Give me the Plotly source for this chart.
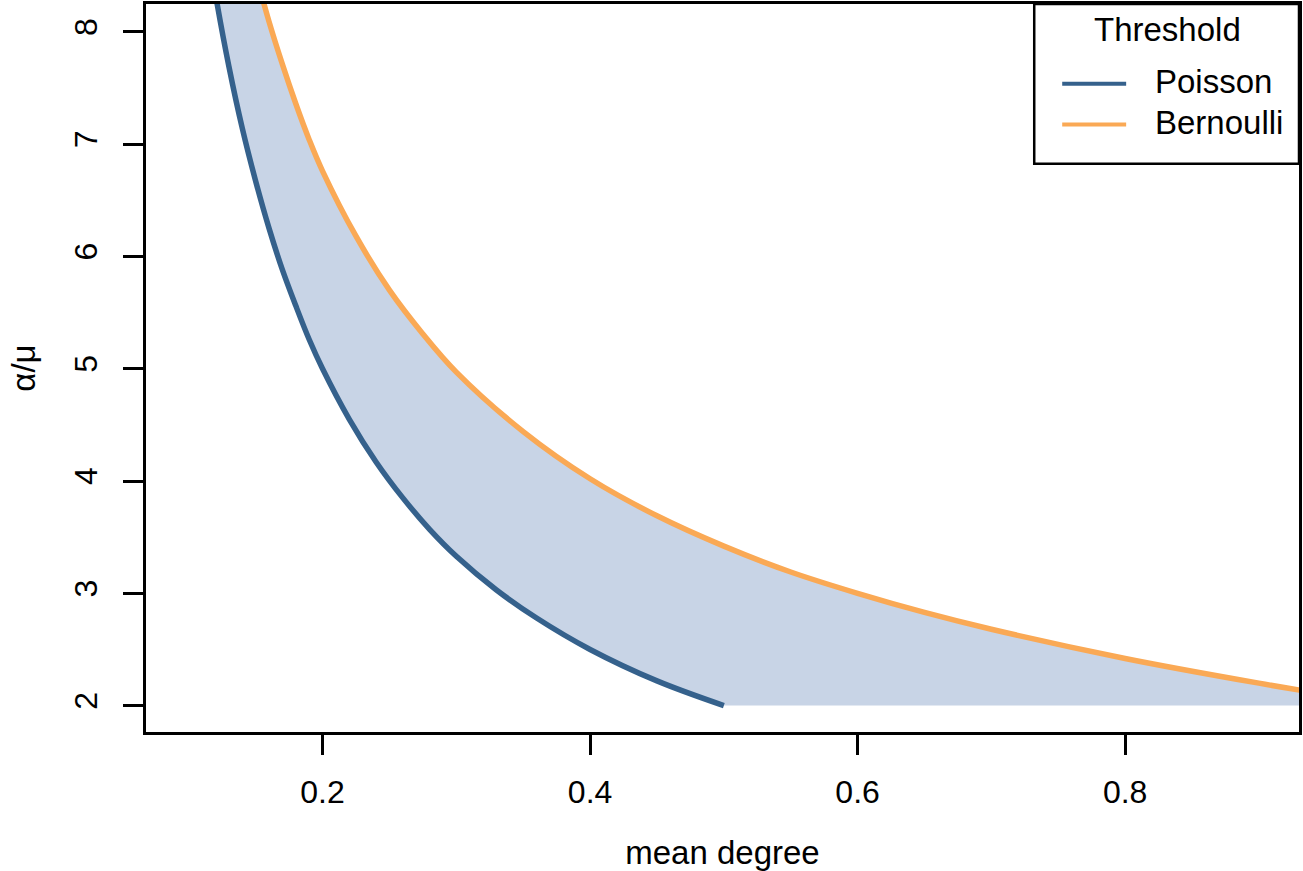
import plotly.graph_objects as go

# ---- data ----
poisson_x = [0.115, 0.12, 0.13, 0.14, 0.15, 0.16, 0.17, 0.18, 0.19, 0.20, 0.22, 0.24,
             0.26, 0.28, 0.30, 0.33, 0.36, 0.40, 0.45, 0.50]
poisson_y = [8.70, 8.33, 7.69, 7.14, 6.67, 6.25, 5.88, 5.56, 5.26, 5.00, 4.55, 4.17,
             3.85, 3.57, 3.33, 3.03, 2.78, 2.50, 2.22, 2.00]

bern_x = [0.150, 0.160, 0.170, 0.180, 0.190, 0.200, 0.225, 0.250, 0.275, 0.300,
          0.350, 0.400, 0.450, 0.500, 0.550, 0.600, 0.650, 0.700, 0.800, 0.900, 0.950]
bern_y = [8.52, 8.09, 7.71, 7.36, 7.04, 6.76, 6.18, 5.70, 5.31, 4.97,
          4.44, 4.02, 3.69, 3.42, 3.19, 3.00, 2.83, 2.68, 2.42, 2.20, 2.10]

floor_y = 2.0
x_ticks = [0.2, 0.4, 0.6, 0.8]
x_ticklabels = ["0.2", "0.4", "0.6", "0.8"]
y_ticks = [2, 3, 4, 5, 6, 7, 8]
y_ticklabels = ["2", "3", "4", "5", "6", "7", "8"]
series_names = ["Poisson", "Bernoulli"]
legend_title = "Threshold"

# ---- styles ----
BLUE = "#35618c"
ORANGE = "#faa955"
FILL = "#c8d4e6"
FONT = "Liberation Sans, Arial, Helvetica, sans-serif"
FS = 32
FS_TITLE = 33
FS_LEG = 33
W, H = 1303, 871
ML, MR, MT, MB = 146, 3, 1, 139

fig = go.Figure()

# lower boundary of the shaded band (Poisson, then the floor at 2)
fig.add_trace(go.Scatter(x=poisson_x + [bern_x[-1]], y=poisson_y + [floor_y],
                         mode="lines", line=dict(width=0, color=FILL, shape="linear"),
                         showlegend=False, hoverinfo="skip"))
# upper boundary (Bernoulli) filled down to the lower boundary
fig.add_trace(go.Scatter(x=bern_x, y=bern_y, mode="lines",
                         line=dict(width=0, color=FILL, shape="spline"),
                         fill="tonexty", fillcolor=FILL,
                         showlegend=False, hoverinfo="skip"))
# visible curves
fig.add_trace(go.Scatter(x=poisson_x, y=poisson_y, mode="lines", name=series_names[0],
                         line=dict(width=5.5, color=BLUE, shape="spline"), showlegend=False))
fig.add_trace(go.Scatter(x=bern_x, y=bern_y, mode="lines", name=series_names[1],
                         line=dict(width=5.5, color=ORANGE, shape="spline"), showlegend=False))

axis_common = dict(showgrid=False, zeroline=False, showline=True, linecolor="black",
                   linewidth=2.5, mirror=True, ticks="outside", ticklen=20,
                   tickwidth=2.5, tickcolor="black",
                   tickfont=dict(family=FONT, size=FS, color="black"))

fig.update_xaxes(range=[0.068, 0.93], tickvals=x_ticks, ticktext=x_ticklabels,
                 title=dict(text="mean degree", font=dict(family=FONT, size=FS_TITLE, color="black"),
                            standoff=32),
                 ticklabelstandoff=10, **axis_common)
fig.update_yaxes(range=[1.765, 8.248], tickvals=y_ticks, ticktext=y_ticklabels,
                 tickangle=-90,
                 title=dict(text="α/μ", font=dict(family=FONT, size=FS_TITLE, color="black"),
                            standoff=23),
                 ticklabelstandoff=13, **axis_common)

# ---- manual legend box (positions in paper coords) ----
pw = W - ML - MR
ph = H - MT - MB
def px2x(px):
    return (px - ML) / pw
def py2y(py):
    return (H - MB - py) / ph

shapes = [dict(type="rect", xref="paper", yref="paper",
               x0=px2x(1035), x1=px2x(1300), y0=py2y(161.5), y1=py2y(1),
               line=dict(color="black", width=2.5), fillcolor="white", layer="above")]
annotations = [dict(text=legend_title, xref="paper", yref="paper",
                    x=px2x(1168), y=py2y(27), showarrow=False,
                    xanchor="center", yanchor="middle",
                    font=dict(family=FONT, size=FS_LEG, color="black"))]
for name, col, ly in [(series_names[0], BLUE, 81), (series_names[1], ORANGE, 122)]:
    shapes.append(dict(type="line", xref="paper", yref="paper",
                       x0=px2x(1063), x1=px2x(1127), y0=py2y(ly), y1=py2y(ly),
                       line=dict(color=col, width=4), layer="above"))
    annotations.append(dict(text=name, xref="paper", yref="paper",
                            x=px2x(1154), y=py2y(ly - 2.5), showarrow=False,
                            xanchor="left", yanchor="middle",
                            font=dict(family=FONT, size=FS_LEG, color="black")))

fig.update_layout(width=W, height=H, margin=dict(l=ML, r=MR, t=MT, b=MB),
                  plot_bgcolor="white", paper_bgcolor="white",
                  shapes=shapes, annotations=annotations, showlegend=False,
                  font=dict(family=FONT, size=FS, color="black"))

fig.write_html("out.html", config={"displayModeBar": False},
               post_script="document.body.style.margin='0';document.body.style.padding='0';")
